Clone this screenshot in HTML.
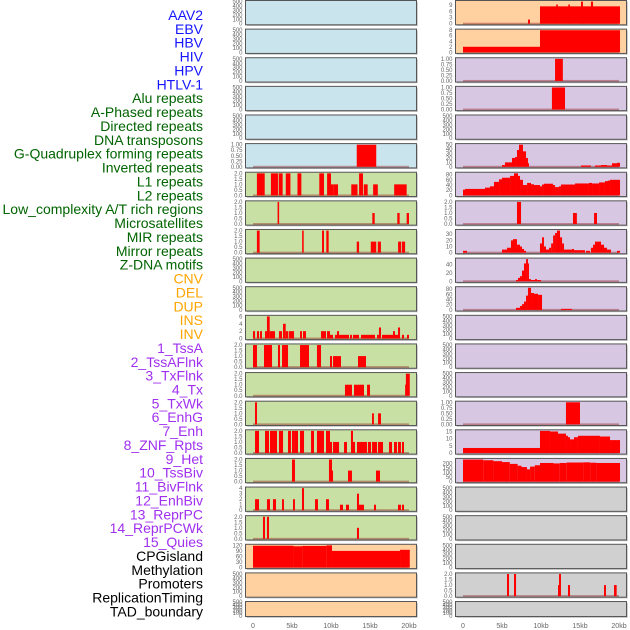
<!DOCTYPE html>
<html><head><meta charset="utf-8"><style>
html,body{margin:0;padding:0;background:#fff;}
svg{display:block;font-family:"Liberation Sans",sans-serif;}
</style></head><body>
<svg id="chart" width="630" height="630" viewBox="0 0 630 630" xmlns="http://www.w3.org/2000/svg"></svg>
<script>
const labels = ["AAV2","EBV","HBV","HIV","HPV","HTLV-1","Alu repeats","A-Phased repeats","Directed repeats","DNA transposons","G-Quadruplex forming repeats","Inverted repeats","L1 repeats","L2 repeats","Low_complexity A/T rich regions","Microsatellites","MIR repeats","Mirror repeats","Z-DNA motifs","CNV","DEL","DUP","INS","INV","1_TssA","2_TssAFlnk","3_TxFlnk","4_Tx","5_TxWk","6_EnhG","7_Enh","8_ZNF_Rpts","9_Het","10_TssBiv","11_BivFlnk","12_EnhBiv","13_ReprPC","14_ReprPCWk","15_Quies","CPGisland","Methylation","Promoters","ReplicationTiming","TAD_boundary"];
const labelColors = ["#1515ff","#006400","#ffa500","#a030f0","#000000"];
const labelGroups = [0,0,0,0,0,0,1,1,1,1,1,1,1,1,1,1,1,1,1,2,2,2,2,2,3,3,3,3,3,3,3,3,3,3,3,3,3,3,3,4,4,4,4,4];
const xTicks = [0,5,10,15,20];
const xTickLabels = ["0","5kb","10kb","15kb","20kb"];

// segments: [startKb, endKb, value]
const segL5 = [[13.3,15.8,1]];
const segL6 = [[0.5,1.5,2],[2.3,3.2,2],[3.3,3.8,2],[4.2,4.8,2],[5.7,6.2,2],[8.5,9.1,2],[9.5,10,2],[10.0,10.3,1],[10.3,10.9,1],[12.6,13.4,1],[13.6,14.1,2],[14.2,14.7,1],[15.4,16,1],[18.1,19.7,1]];
const segL7 = [[3.15,3.35,2],[15.3,15.6,1],[18.5,18.8,1],[19.7,20,1]];
const segL8 = [[0.5,0.85,2],[6.3,6.5,2],[8.85,9.1,2],[9.4,9.7,2],[13.3,13.6,1],[15.1,15.8,1],[16,16.4,1],[18.6,19,1],[19.1,19.5,1]];
const segL11 = [[0,0.26,2],[0.51,0.77,2],[0.9,1.15,2],[1.54,1.79,2],[1.79,2.14,6],[2.14,2.82,2],[3.33,3.72,2],[3.85,4.19,4],[4.19,4.53,2],[4.62,5.26,2],[6.03,6.28,2],[6.41,6.79,2],[8.72,9.36,2],[9.49,9.87,2],[9.87,10.26,1],[10.51,10.77,1],[10.77,11.03,2],[11.03,12.31,1],[12.44,12.69,1],[12.82,13.59,1],[13.85,15.64,1],[15.9,16.15,1],[16.15,16.41,3],[16.54,17.95,1],[17.95,18.2,2],[18.2,18.59,1],[18.59,18.85,3],[19.1,19.36,1],[19.74,20,1]];
const segL12 = [[0,0.51,2],[1.41,2.44,2],[3.2,3.46,2],[3.72,4.49,2],[6.03,7.18,2],[8.2,8.72,2],[9.87,10.13,1],[10.26,11.28,1],[13.46,14.49,1]];
const segL13 = [[11.79,12.69,1],[12.95,14.23,1],[14.62,15,1],[19.49,19.6,1],[19.6,20.1,2]];
const segL14 = [[0.26,0.51,2],[15.26,15.5,1],[16.03,16.41,1]];
const segL15 = [[0.26,0.77,2],[1.54,2.05,2],[2.18,3.08,2],[3.33,3.85,2],[4.49,4.87,2],[5,5.38,2],[5.38,5.77,2],[6.03,6.54,2],[7.44,7.82,2],[8.2,9.1,2],[9.36,9.87,2],[9.87,10.13,1],[10.26,11.03,1],[11.67,12.05,1],[12.56,12.82,2],[12.82,13.08,1],[13.33,14.62,1],[14.74,15.13,1],[15.26,15.9,1],[16.03,16.67,1],[17.44,17.82,1],[18.08,18.46,1],[18.59,18.97,1],[19.1,19.36,1]];
const segL16 = [[5,5.38,2],[9.74,10.13,2],[10.13,10.26,1],[12.18,12.69,1],[15.77,16.28,1]];
const segL17 = [[0.26,0.77,2],[1.79,2.18,2],[2.56,2.95,2],[3.72,3.97,2],[5.13,5.38,2],[6.28,6.54,4],[7.95,8.33,2],[9.36,9.74,2],[11.15,11.54,1],[11.92,12.31,1],[13.33,13.59,3],[13.59,14.23,1],[15.51,15.77,1],[18.59,18.97,1],[19.1,19.36,1]];
const segL18 = [[1.28,1.54,2],[1.79,2.05,2],[13.33,13.59,1]];
const segL19 = [[0,5.2,118],[5.2,6.3,115],[6.3,9.4,117],[9.4,10.13,120],[10.13,18.85,90],[18.85,20.1,96]];
const segR0 = [[8.33,8.59,2],[9.87,20.13,8.4],[11.95,12.15,9.3],[13.5,13.7,9.3],[15.13,15.38,10.7],[16.4,16.67,10.7]];
const segR1 = [[0,9.87,2],[9.87,20.13,8]];
const segR2 = [[11.8,12.8,1]];
const segR3 = [[11.4,13.08,1]];
const segR5 = [[5,5.38,4],[5.38,6.28,10],[6.28,6.67,20],[6.67,6.92,22],[6.92,7.18,38],[7.18,7.69,50],[7.69,8.08,35],[8.08,8.33,20],[8.33,8.46,8],[15.13,16.4,3],[16.92,17.69,3],[17.69,18.46,4],[18.46,19.1,3],[19.1,19.74,8],[19.74,20.13,9]];
const segR6 = [[0,0.26,22],[0.26,2.82,25],[2.82,3.46,30],[3.46,3.97,35],[3.97,4.62,52],[4.62,5,62],[5,6.03,68],[6.03,6.54,75],[6.54,7.05,85],[7.05,7.31,75],[7.31,7.69,60],[7.69,8.21,40],[8.21,8.72,48],[8.72,9.1,43],[9.1,9.87,40],[9.87,10.13,35],[10.13,10.38,42],[10.38,11.54,45],[11.54,11.8,40],[11.8,12.3,32],[12.3,12.56,35],[12.56,14.36,42],[14.36,16.15,46],[16.15,16.54,48],[16.54,17.44,46],[17.44,18.2,50],[18.2,18.59,55],[18.59,18.85,57],[18.85,20.13,60]];
const segR7 = [[6.92,7.44,2],[14.1,14.6,1],[16.8,17.18,1]];
const segR8 = [[0,0.51,3],[5,5.64,5],[5.64,6.15,8],[6.15,6.41,20],[6.41,6.92,22],[6.92,7.31,13],[7.31,7.56,10],[7.56,7.82,6],[7.82,8.08,3],[9.87,10.13,15],[10.13,10.38,25],[10.38,10.64,10],[10.64,11.03,5],[11.03,11.3,8],[11.3,11.55,15],[11.55,11.8,28],[11.8,12.05,32],[12.05,12.44,36],[12.44,12.7,25],[12.7,12.95,15],[12.95,13.97,5],[13.97,14.23,6],[14.23,15.64,4],[15.77,16.28,3],[16.4,16.67,8],[16.67,16.92,13],[16.92,17.69,18],[17.69,18.08,13],[18.08,18.46,8],[18.46,18.97,5],[19.74,20.13,3]];
const segR9 = [[6.8,7.05,3],[7.05,7.31,8],[7.31,7.56,12],[7.56,7.82,25],[7.82,8.08,42],[8.08,8.33,52],[8.33,8.46,42],[8.46,8.72,5],[8.72,9.23,3],[9.23,9.49,5],[9.49,10,3]];
const segR10 = [[6.8,7.31,8],[7.31,7.56,15],[7.56,7.82,22],[7.82,8.08,32],[8.08,8.33,55],[8.33,8.72,85],[8.72,9.1,65],[9.1,9.62,62],[9.62,10.13,58],[12.56,13.97,4]];
const segR14 = [[13.2,15,1]];
const segR15 = [[0,9.87,3.5],[9.87,11.15,15.4],[11.15,12.18,15],[12.18,13.2,13.5],[13.2,13.46,12],[13.46,13.72,11],[13.72,14.23,9.5],[14.23,14.74,11],[14.74,17.56,12],[17.56,18.85,11.5],[18.85,20.13,9]];
const segR16 = [[0,2.6,243],[2.6,3.9,235],[3.9,5,225],[5,6,215],[6,7,195],[7,7.5,175],[7.5,8.2,160],[8.2,8.6,135],[8.6,9.2,165],[9.2,9.87,180],[9.87,11.6,205],[11.6,12.4,200],[12.4,13.3,205],[13.3,15.4,210],[15.4,16.3,212],[16.3,17.1,208],[17.1,20.13,205]];
const segR20 = [[5.64,5.9,2],[6.54,6.8,2],[12.18,12.44,1],[12.31,12.56,2],[13.46,13.72,1],[18.08,18.33,1],[19.36,19.7,1]];

// per panel: segments, data max, tick step, decimals
const leftSegs = [null,null,null,null,null,segL5,segL6,segL7,segL8,null,null,segL11,segL12,segL13,segL14,segL15,segL16,segL17,segL18,segL19,null,null];
const leftMax  = [500,500,500,500,500,1,2,2,2,500,500,6,2,2,2,2,2,4,2,120,500,500];
const leftStep = [100,100,100,100,100,0.25,0.5,0.5,0.5,100,100,2,0.5,0.5,0.5,0.5,0.5,1,0.5,30,100,100];
const rightSegs = [segR0,segR1,segR2,segR3,null,segR5,segR6,segR7,segR8,segR9,segR10,null,null,null,segR14,segR15,segR16,null,null,null,segR20,null];
const rightMax  = [10.7,8,1,1,500,50,85,2,36,52,85,500,500,500,1,15.4,243,500,500,500,2,500];
const rightStep = [3,2,0.25,0.25,100,10,20,0.5,10,20,20,100,100,100,0.25,5,50,100,100,100,0.5,100];
const leftBg = ["#c9e4ec","#c9e4ec","#c9e4ec","#c9e4ec","#c9e4ec","#c9e4ec","#c9e0a5","#c9e0a5","#c9e0a5","#c9e0a5","#c9e0a5","#c9e0a5","#c9e0a5","#c9e0a5","#c9e0a5","#c9e0a5","#c9e0a5","#c9e0a5","#c9e0a5","#ffd1a1","#ffd1a1","#ffd1a1"];
const rightBg = ["#ffd1a1","#ffd1a1","#d7c7e3","#d7c7e3","#d7c7e3","#d7c7e3","#d7c7e3","#d7c7e3","#d7c7e3","#d7c7e3","#d7c7e3","#d7c7e3","#d7c7e3","#d7c7e3","#d7c7e3","#d7c7e3","#d7c7e3","#d0d0d0","#d0d0d0","#d0d0d0","#d0d0d0","#d0d0d0"];

const NS = "http://www.w3.org/2000/svg";
const svg = document.getElementById('chart');
function mk(tag, attrs, parent){const e=document.createElementNS(NS,tag);for(const k in attrs)e.setAttribute(k,attrs[k]);(parent||svg).appendChild(e);return e;}

// labels
labels.forEach((t,i)=>{
  const el = mk('text',{x:203,y:(20+13.87*i).toFixed(1),'text-anchor':'end','font-size':14,fill:labelColors[labelGroups[i]]});
  
  
  el.textContent = t;
});

function rowTop(i){return 0.5+28.62*i;}
function rowH(i){return i===21?15:24.3;}

function drawPanel(col,i,segs,D,step,bg){
  const rx = col===0?245.5:455.5, rw = 171;
  const x0 = col===0?253:463, kx = 7.8;
  const xs = kb=>x0+kx*kb;
  const top=rowTop(i), h=rowH(i);
  const ys = v=>top+h-h*(v+0.05*D)/(1.1*D);
  const g = mk('g',{});
  
  
  mk('rect',{x:rx+1.2,y:top+1.2,width:rw,height:h,fill:'#bbbbbb'},g);
  const bgRect = mk('rect',{x:rx,y:top,width:rw,height:h,fill:bg},g);
  
  
  if(segs){
    const base = mk('rect',{x:xs(0),y:ys(0)-1,width:xs(20)-xs(0),height:2,fill:'rgba(150,40,40,0.45)'},g);
    
    
    segs.forEach(s=>{
      const y1=ys(s[2]), y0=ys(0);
      const b = mk('rect',{x:xs(s[0]).toFixed(2),y:y1.toFixed(2),width:Math.max(0.8,xs(s[1])-xs(s[0])).toFixed(2),height:(y0-y1).toFixed(2),fill:'#ff0000'},g);
      
      
    });
  }
  mk('rect',{x:rx,y:top,width:rw,height:h,fill:'none',stroke:'#555',"stroke-width":1},g);
  const dec = step<1?(step===0.25?2:1):0;
  for(let v=0; v<=D+1e-9; v+=step){
    const t = mk('text',{x:rx-3,y:(ys(v)+2).toFixed(1),'text-anchor':'end','font-size':6,fill:'#666'},g);
    
    
    t.textContent = v.toFixed(dec);
  }
  if(i===21){
    xTicks.forEach((k,j)=>{
      const t = mk('text',{x:xs(k),y:628,'text-anchor':'middle','font-size':7,fill:'#666'},g);
      
      
      t.textContent = xTickLabels[j];
    });
  }
}
for(let i=0;i<22;i++){
  drawPanel(0,i,leftSegs[i],leftMax[i],leftStep[i],leftBg[i]);
  drawPanel(1,i,rightSegs[i],rightMax[i],rightStep[i],rightBg[i]);
}
</script>
</body></html>
